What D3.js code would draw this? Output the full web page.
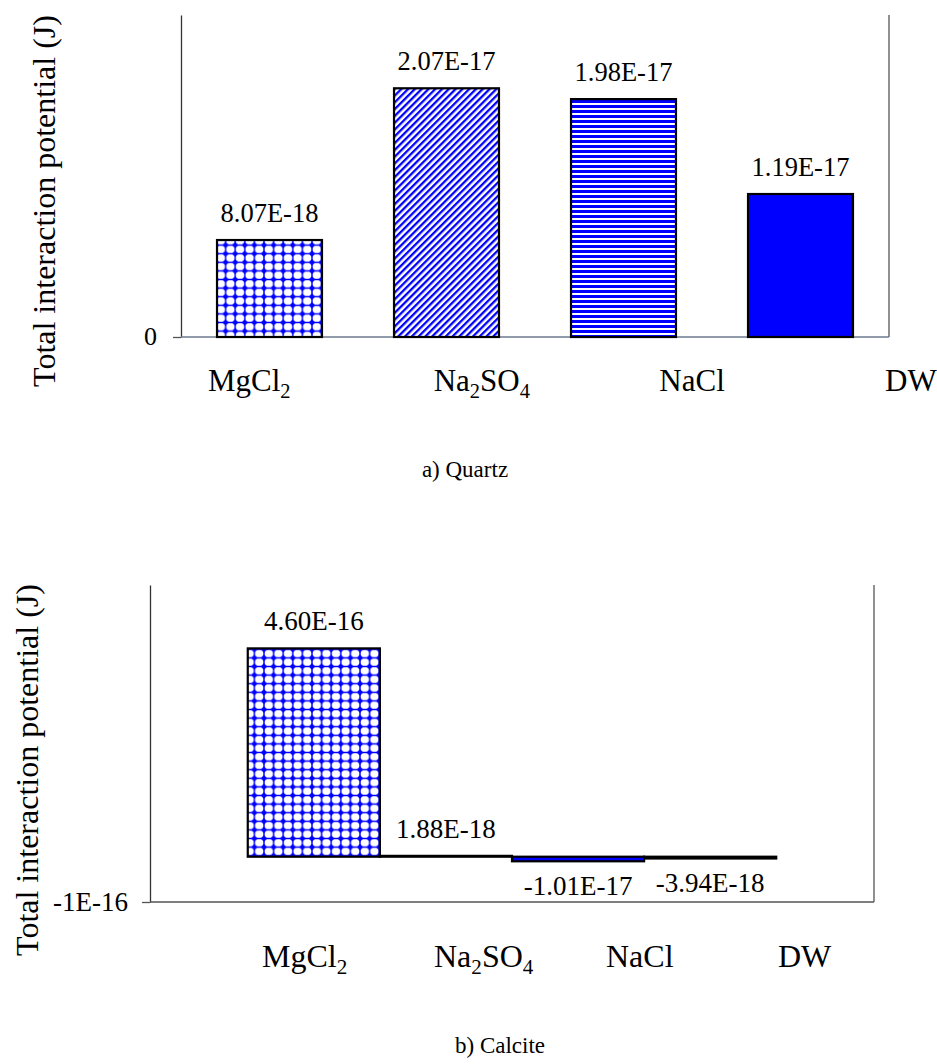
<!DOCTYPE html>
<html>
<head>
<meta charset="utf-8">
<script src="https://cdn.jsdelivr.net/npm/d3@7"></script>
<style>
  body { margin: 0; background: #fff; }
</style>
</head>
<body>
<div id="chart"></div>
<script>
const width = 937;
const height = 1064;
const serif = "'Liberation Serif'";

// Données
const categories = ["MgCl2", "Na2SO4", "NaCl", "DW"];
const quartzValues = [8.07e-18, 2.07e-17, 1.98e-17, 1.19e-17];
const quartzLabels = ["8.07E-18", "2.07E-17", "1.98E-17", "1.19E-17"];
const calciteValues = [4.60e-16, 1.88e-18, -1.01e-17, -3.94e-18];
const calciteLabels = ["4.60E-16", "1.88E-18", "-1.01E-17", "-3.94E-18"];
const quartzDomain = [0, 2.68e-17];
const calciteDomain = [-1e-16, 6e-16];
const quartzTicks = [0];
const quartzTickLabels = ["0"];
const calciteTicks = [-1e-16];
const calciteTickLabels = ["-1E-16"];
const quartzFills = ["url(#dots)", "url(#diag)", "url(#hlines)", "#0000ff"];
const calciteFills = ["url(#dots)", "url(#diag)", "#0000ff", "#0000ff"];
const yTitle = "Total interaction potential (J)";

const svg = d3.select("#chart")
    .append("svg")
    .attr("width", width)
    .attr("height", height);

// Motifs de remplissage
const defs = svg.append("defs");

const dots = defs.append("pattern")
    .attr("id", "dots")
    .attr("patternUnits", "userSpaceOnUse")
    .attr("width", 9.6).attr("height", 8.6);
dots.append("rect").attr("width", 9.6).attr("height", 8.6).attr("fill", "#fff");
dots.append("path")
    .attr("d", "M0,4.3H9.6M4.8,0V8.6")
    .attr("stroke", "#0000ff").attr("stroke-width", 1.4);
dots.append("path")
    .attr("d", "M4.8,0.9L8.0,4.3L4.8,7.7L1.6,4.3Z")
    .attr("fill", "#0000ff");

const diag = defs.append("pattern")
    .attr("id", "diag")
    .attr("patternUnits", "userSpaceOnUse")
    .attr("width", 4.8).attr("height", 4.8)
    .attr("patternTransform", "rotate(45)");
diag.append("rect").attr("width", 4.8).attr("height", 4.8).attr("fill", "#fff");
diag.append("rect").attr("width", 2.3).attr("height", 4.8).attr("fill", "#0000ff");

const hlines = defs.append("pattern")
    .attr("id", "hlines")
    .attr("patternUnits", "userSpaceOnUse")
    .attr("width", 6).attr("height", 5);
hlines.append("rect").attr("width", 6).attr("height", 5).attr("fill", "#fff");
hlines.append("rect").attr("width", 6).attr("height", 3).attr("fill", "#0000ff");

// Écrit une formule chimique avec indices
function formula(sel, name, size) {
    let shift = 0;
    name.split(/(\d)/).filter(s => s !== "").forEach(part => {
        const sub = /\d/.test(part);
        const target = sub ? size * 0.22 : 0;
        const t = sel.append("tspan")
            .attr("dy", target - shift)
            .text(part);
        if (sub) t.attr("font-size", size * 0.66);
        shift = target;
    });
}

// Texte posé directement dans le svg
function label(x, y, txt, size, anchor) {
    return svg.append("text")
        .attr("x", x).attr("y", y)
        .attr("font-size", size)
        .attr("text-anchor", anchor || "middle")
        .style("font-family", serif)
        .text(txt);
}

function drawChart(cfg) {
    const g = svg.append("g");

    const x = d3.scaleBand()
        .domain(categories)
        .range([cfg.left, cfg.right])
        .paddingInner(cfg.padInner)
        .paddingOuter(cfg.padOuter);

    const y = d3.scaleLinear()
        .domain(cfg.domain)
        .range([cfg.bottom, cfg.top]);

    // Axe vertical (ligne et graduation), texte ajouté à part
    const yAxis = d3.axisLeft(y)
        .tickValues(cfg.ticks)
        .tickFormat("")
        .tickSize(8)
        .tickSizeOuter(0);

    const ya = g.append("g")
        .attr("transform", `translate(${cfg.left},0)`)
        .call(yAxis);
    ya.select(".domain").attr("stroke", "#333").attr("stroke-width", 1.3);
    ya.selectAll(".tick line").attr("stroke", "#555").attr("stroke-width", 1.3);
    ya.selectAll(".tick text").remove();

    cfg.ticks.forEach((t, i) => {
        label(cfg.left - 8 - cfg.tickPad, y(t), cfg.tickLabels[i], cfg.tickSize, "end")
            .attr("dy", "0.32em");
    });

    // Bordure droite et ligne de base
    g.append("line")
        .attr("x1", cfg.right).attr("x2", cfg.right)
        .attr("y1", cfg.top).attr("y2", cfg.bottom)
        .attr("stroke", "#555").attr("stroke-width", 1.3);
    g.append("line")
        .attr("x1", cfg.left).attr("x2", cfg.right)
        .attr("y1", cfg.bottom).attr("y2", cfg.bottom)
        .attr("stroke", cfg.baseColor).attr("stroke-width", 1.3);

    // Barres
    g.selectAll(".bar")
        .data(cfg.values)
        .join("rect")
        .attr("class", "bar")
        .attr("x", (d, i) => x(categories[i]))
        .attr("width", x.bandwidth())
        .attr("y", d => y(Math.max(0, d)))
        .attr("height", d => Math.abs(y(d) - y(0)))
        .attr("fill", (d, i) => cfg.fills[i])
        .attr("stroke", "#000")
        .attr("stroke-width", 2.2);

    // Étiquettes de valeurs
    cfg.values.forEach((d, i) => {
        label(x(categories[i]) + x.bandwidth() / 2,
              d >= 0 ? y(d) - 18 : y(d) + 34,
              cfg.labels[i], cfg.valSize);
    });

    // Noms des catégories (zones de texte décalées)
    const lx = d3.scalePoint().domain(categories).range(cfg.catRange);
    categories.forEach(c => {
        const t = label(lx(c), cfg.catY, "", cfg.catSize, "start");
        formula(t, c, cfg.catSize);
    });

    // Titre de l'axe
    label(0, 0, yTitle, 32)
        .attr("transform", `translate(${cfg.titleX},${cfg.titleY}) rotate(-90)`);

    // Légende de la figure
    label(cfg.capX, cfg.capY, cfg.caption, 23);
}

drawChart({
    values: quartzValues, labels: quartzLabels, fills: quartzFills,
    domain: quartzDomain, ticks: quartzTicks, tickLabels: quartzTickLabels,
    left: 181, right: 889, top: 15, bottom: 337,
    padInner: 0.407, padOuter: 0.2035,
    tickPad: 16, tickSize: 26, valSize: 26.5, baseColor: "#6c7a90",
    catRange: [208, 885], catY: 391, catSize: 31,
    titleX: 55, titleY: 201,
    capX: 465, capY: 477, caption: "a) Quartz"
});

drawChart({
    values: calciteValues, labels: calciteLabels, fills: calciteFills,
    domain: calciteDomain, ticks: calciteTicks, tickLabels: calciteTickLabels,
    left: 150, right: 874, top: 585, bottom: 902,
    padInner: 0, padOuter: 0.74,
    tickPad: 14, tickSize: 27, valSize: 27, baseColor: "#555",
    catRange: [262, 778], catY: 967, catSize: 32,
    titleX: 38, titleY: 770,
    capX: 500, capY: 1053, caption: "b) Calcite"
});
</script>
</body>
</html>
